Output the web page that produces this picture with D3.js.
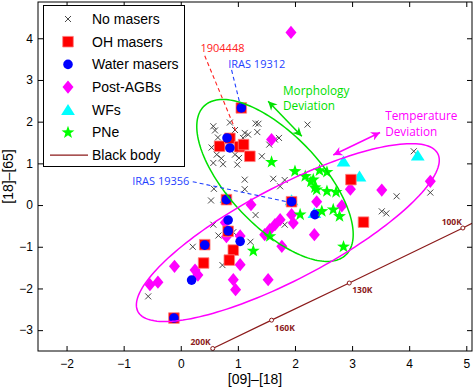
<!DOCTYPE html>
<html>
<head>
<meta charset="utf-8">
<script src="https://cdn.jsdelivr.net/npm/d3@7"></script>
<style>
  body { margin: 0; background: #fff; }
  svg { display: block; font-family: 'Liberation Sans', Arial, sans-serif; }
</style>
</head>
<body>
<div class="container"></div>
<script>
// [09]-[18] vs [18]-[65] colours, one list per class
const noMasers = [
  [0.57, 1.89], [0.60, 1.79], [0.86, 1.98], [0.95, 1.80], [1.12, 1.73], [1.18, 1.69],
  [1.31, 1.96], [1.36, 1.95], [1.34, 1.75], [1.09, 1.61], [1.55, 1.45], [1.72, 1.61],
  [1.65, 1.57], [2.22, 1.93], [0.65, 1.62], [0.54, 1.38], [0.63, 1.21], [0.57, 1.01],
  [0.74, 0.98], [0.99, 0.97], [0.95, 1.21], [1.02, 1.13], [1.42, 1.17], [0.71, 1.12],
  [1.12, 0.61], [1.62, 0.63], [1.82, 0.60], [1.74, 0.45], [0.58, 0.39], [1.12, 0.38],
  [0.53, 0.11], [1.31, -0.24], [0.57, -0.47], [0.66, -0.73], [0.92, -0.65], [1.22, -0.88],
  [0.21, -1.00], [0.73, -1.44], [1.82, -0.47], [-0.57, -2.19], [3.78, 0.21], [4.37, 0.30],
  [4.08, 1.29], [3.52, -0.15], [3.60, -0.20]
];
const wfs = [[2.85, 1.05], [3.13, 0.69], [4.15, 1.19], [0.80, 0.17], [1.94, 0.12], [2.34, -0.19]];
const postAGBs = [
  [1.93, 4.14], [1.59, 1.57], [2.97, 0.38], [3.52, 0.36], [4.37, 0.57], [1.23, 0.01],
  [2.38, 0.08], [2.82, -0.02], [1.94, -0.23], [1.97, -0.43], [1.74, -0.35], [1.65, -0.47],
  [1.56, -0.59], [1.47, -0.71], [2.34, -0.71], [1.77, -0.99], [1.53, -1.79], [1.04, -0.74],
  [1.04, -1.43], [0.92, -1.79], [0.96, -2.03], [-0.11, -1.47], [0.25, -1.56], [0.30, -1.68],
  [-0.54, -1.91], [-0.40, -1.85], [0.80, -0.76], [0.78, -0.42]
];
const ohMasers = [
  [1.06, 2.33], [0.68, 1.41], [0.86, 1.60], [1.03, 1.40], [1.10, 1.45], [1.21, 1.17],
  [2.98, 0.61], [3.20, -0.41], [0.80, 0.13], [1.94, 0.08], [0.83, -0.63], [0.42, -0.95],
  [0.40, -1.39], [0.92, -1.08], [0.85, -1.32], [-0.12, -2.71]
];
const waterMasers = [
  [1.06, 2.33], [0.81, 1.61], [0.86, 1.37], [0.80, 0.13], [1.94, 0.08], [2.35, -0.23],
  [0.83, -0.36], [0.83, -0.62], [1.04, -0.87], [0.42, -0.96], [0.19, -1.80], [-0.12, -2.71]
];
const pne = [
  [1.59, 1.03], [2.00, 0.81], [2.18, 0.69], [2.28, 0.56], [2.32, 0.61], [2.43, 0.83],
  [2.56, 0.79], [2.35, 0.42], [2.38, 0.37], [2.56, 0.33], [2.72, 0.31], [2.09, -0.23],
  [2.47, -0.15], [2.67, -0.11], [2.78, -0.27], [1.56, -0.75], [2.85, -1.00], [1.27, -1.10]
];

// black body curve and its temperature marks
const bbCurve = [[0.53, -3.47], [0.56, -3.44], [1.59, -2.76], [2.95, -1.87], [4.94, -0.55], [5.1, -0.44]];
const bbTemps = ['200K', '160K', '130K', '100K'];
const bbX = [0.56, 1.59, 2.95, 4.94];
const bbY = [-3.44, -2.76, -1.87, -0.55];

// ellipses: centre and two half-axis vectors, data units
const morphEllipse = { c: [1.65, 0.59], u: [1.238, -1.789], v: [-0.586, -0.755] };
const tempEllipse = { c: [1.875, -0.66], u: [2.625, 1.895], v: [0.379, -0.98] };

const xTicks = [-2, -1, 0, 1, 2, 3, 4, 5];
const yTicks = [-3, -2, -1, 0, 1, 2, 3, 4];

const width = 473;
const height = 388;
const box = { left: 38, right: 472, top: 2, bottom: 351 };

const x = d3.scaleLinear().domain([-2.5, 5.1]).range([box.left, box.right]);
const y = d3.scaleLinear().domain([-3.5, 4.87]).range([box.bottom, box.top]);

const svg = d3
  .select('.container')
  .append('svg')
  .attr('width', width)
  .attr('height', height);

const defs = svg.append('defs');
defs
  .append('clipPath')
  .attr('id', 'clip')
  .append('rect')
  .attr('x', box.left)
  .attr('y', box.top)
  .attr('width', box.right - box.left)
  .attr('height', box.bottom - box.top);

const arrowHead = (id, color) => {
  defs
    .append('marker')
    .attr('id', id)
    .attr('viewBox', '0 0 10 10')
    .attr('refX', 10)
    .attr('refY', 5)
    .attr('markerUnits', 'userSpaceOnUse')
    .attr('markerWidth', 10)
    .attr('markerHeight', 9)
    .attr('orient', 'auto-start-reverse')
    .append('path')
    .attr('d', 'M0,0 L10,5 L0,10 L3,5 Z')
    .attr('fill', color);
};
arrowHead('head-green', '#00e000');
arrowHead('head-mag', '#ff00ff');

// marker shapes
const shapes = {
  cross: s => `M${-s},${-s}L${s},${s}M${-s},${s}L${s},${-s}`,
  square: s => `M${-s},${-s}H${s}V${s}H${-s}Z`,
  diamond: s => `M0,${-s * 1.2}L${s},0L0,${s * 1.2}L${-s},0Z`,
  triangle: s => `M0,${-s * 0.95}L${s * 1.15},${s * 0.85}L${-s * 1.15},${s * 0.85}Z`,
  star: s => {
    let p = '';
    for (let i = 0; i < 10; i++) {
      const r = i % 2 ? s * 0.4 : s;
      const a = -Math.PI / 2 + (i * Math.PI) / 5;
      p += (i ? 'L' : 'M') + (r * Math.cos(a)).toFixed(2) + ',' + (r * Math.sin(a)).toFixed(2);
    }
    return p + 'Z';
  }
};

const series = [
  { name: 'No masers', data: noMasers, shape: 'cross', size: 3, fill: 'none', stroke: '#333' },
  { name: 'WFs', data: wfs, shape: 'triangle', size: 6, fill: '#00ffff' },
  { name: 'Post-AGBs', data: postAGBs, shape: 'diamond', size: 5.5, fill: '#ff00ff' },
  { name: 'OH masers', data: ohMasers, shape: 'square', size: 5.3, fill: '#ff0000', stroke: '#ff8080' },
  { name: 'Water masers', data: waterMasers, shape: 'circle', size: 4.8, fill: '#0000ff' },
  { name: 'PNe', data: pne, shape: 'star', size: 6.8, fill: '#00ff00' }
];

const legendOrder = ['No masers', 'OH masers', 'Water masers', 'Post-AGBs', 'WFs', 'PNe'];

const drawMarker = (sel, s) => {
  if (s.shape === 'circle') {
    sel.append('circle').attr('r', s.size).attr('fill', s.fill);
  } else {
    sel
      .append('path')
      .attr('d', shapes[s.shape](s.size))
      .attr('fill', s.fill)
      .attr('stroke', s.stroke || 'none')
      .attr('stroke-width', s.shape === 'cross' ? 0.9 : 0.8);
  }
};

const graph = svg.append('g').attr('clip-path', 'url(#clip)');

// black body line
graph
  .append('path')
  .datum(bbCurve)
  .attr('d', d3.line().x(d => x(d[0])).y(d => y(d[1])))
  .attr('fill', 'none')
  .attr('stroke', '#8b1a1a')
  .attr('stroke-width', 1.2);

graph
  .selectAll('.bb-mark')
  .data(bbX)
  .enter()
  .append('circle')
  .attr('class', 'bb-mark')
  .attr('cx', d => x(d))
  .attr('cy', (d, i) => y(bbY[i]))
  .attr('r', 2)
  .attr('fill', '#fff')
  .attr('stroke', '#8b1a1a')
  .attr('stroke-width', 1);

const bbOffsets = [[-2, -3, 'end'], [3, 11, 'start'], [3, 10, 'start'], [-1, -3, 'end']];
graph
  .selectAll('.bb-label')
  .data(bbTemps)
  .enter()
  .append('text')
  .attr('class', 'bb-label')
  .attr('x', (d, i) => x(bbX[i]) + bbOffsets[i][0])
  .attr('y', (d, i) => y(bbY[i]) + bbOffsets[i][1])
  .attr('text-anchor', (d, i) => bbOffsets[i][2])
  .attr('font-family', "'Open Sans', sans-serif")
  .attr('font-size', 8.5)
  .attr('font-weight', 'bold')
  .attr('fill', '#8b1a1a')
  .text(d => d);

// data points
series.forEach(s => {
  graph
    .selectAll(null)
    .data(s.data)
    .enter()
    .append('g')
    .attr('transform', d => `translate(${x(d[0])},${y(d[1])})`)
    .each(function() {
      drawMarker(d3.select(this), s);
    });
});

// ellipses
const ellipsePath = e => {
  const pts = d3.range(0, 2 * Math.PI + 0.01, Math.PI / 90).map(t => [
    e.c[0] + e.u[0] * Math.cos(t) + e.v[0] * Math.sin(t),
    e.c[1] + e.u[1] * Math.cos(t) + e.v[1] * Math.sin(t)
  ]);
  return d3.line().x(d => x(d[0])).y(d => y(d[1]))(pts);
};

graph
  .append('path')
  .attr('d', ellipsePath(morphEllipse))
  .attr('fill', 'none')
  .attr('stroke', '#00e000')
  .attr('stroke-width', 1.5);

graph
  .append('path')
  .attr('d', ellipsePath(tempEllipse))
  .attr('fill', 'none')
  .attr('stroke', '#ff00ff')
  .attr('stroke-width', 1.5);

// annotations
const dashed = [
  { from: [0.42, 3.58], to: [0.98, 1.73], color: '#ff2020' },
  { from: [0.89, 3.24], to: [1.04, 2.41], color: '#1f3fff' },
  { from: [0.21, 0.56], to: [1.86, 0.08], color: '#1f3fff' }
];
graph
  .selectAll('.leader')
  .data(dashed)
  .enter()
  .append('line')
  .attr('x1', d => x(d.from[0]))
  .attr('y1', d => y(d.from[1]))
  .attr('x2', d => x(d.to[0]))
  .attr('y2', d => y(d.to[1]))
  .attr('stroke', d => d.color)
  .attr('stroke-width', 1.1)
  .attr('stroke-dasharray', '4,3');

const notes = [
  { text: '1904448', at: [0.345, 3.67], color: '#ff2020', size: 11 },
  { text: 'IRAS 19312', at: [0.83, 3.29], color: '#1f3fff', size: 11 },
  { text: 'IRAS 19356', at: [-0.85, 0.48], color: '#1f3fff', size: 11 },
  { text: 'Morphology', at: [1.79, 2.63], color: '#00e000', size: 11.8 },
  { text: 'Deviation', at: [1.79, 2.28], color: '#00e000', size: 11.8 },
  { text: 'Temperature', at: [3.58, 2.03], color: '#ff00ff', size: 11.8 },
  { text: 'Deviation', at: [3.58, 1.66], color: '#ff00ff', size: 11.8 }
];
graph
  .selectAll('.note')
  .data(notes)
  .enter()
  .append('text')
  .attr('x', d => x(d.at[0]))
  .attr('y', d => y(d.at[1]))
  .attr('font-family', "'Open Sans', sans-serif")
  .attr('font-size', d => d.size)
  .attr('fill', d => d.color)
  .text(d => d.text);

const arrows = [
  { from: [1.53, 2.49], to: [2.12, 1.65], head: 'head-green', color: '#00e000' },
  { from: [3.49, 1.74], to: [2.67, 1.2], head: 'head-mag', color: '#ff00ff' }
];
graph
  .selectAll('.arrow')
  .data(arrows)
  .enter()
  .append('line')
  .attr('x1', d => x(d.from[0]))
  .attr('y1', d => y(d.from[1]))
  .attr('x2', d => x(d.to[0]))
  .attr('y2', d => y(d.to[1]))
  .attr('stroke', d => d.color)
  .attr('stroke-width', 1.5)
  .attr('marker-start', d => `url(#${d.head})`)
  .attr('marker-end', d => `url(#${d.head})`);

// axes, ticks inside on all four sides
const tickStyle = g => {
  g.select('.domain').remove();
  g.selectAll('.tick line').attr('stroke', '#000');
  g.selectAll('.tick text').attr('font-size', 12).attr('fill', '#000');
};

svg
  .append('g')
  .attr('transform', `translate(0,${box.bottom})`)
  .call(d3.axisBottom(x).tickValues(xTicks).tickSizeInner(-5).tickSizeOuter(0).tickPadding(8))
  .call(tickStyle);
svg
  .append('g')
  .attr('transform', `translate(0,${box.top})`)
  .call(d3.axisTop(x).tickValues(xTicks).tickSizeInner(-5).tickSizeOuter(0).tickFormat(''))
  .call(tickStyle);
svg
  .append('g')
  .attr('transform', `translate(${box.left},0)`)
  .call(d3.axisLeft(y).tickValues(yTicks).tickSizeInner(-5).tickSizeOuter(0).tickPadding(5))
  .call(tickStyle);
svg
  .append('g')
  .attr('transform', `translate(${box.right},0)`)
  .call(d3.axisRight(y).tickValues(yTicks).tickSizeInner(-5).tickSizeOuter(0).tickFormat(''))
  .call(tickStyle);

svg
  .append('rect')
  .attr('x', box.left)
  .attr('y', box.top)
  .attr('width', box.right - box.left)
  .attr('height', box.bottom - box.top)
  .attr('fill', 'none')
  .attr('stroke', '#000')
  .attr('stroke-width', 1);

svg
  .append('text')
  .attr('x', (box.left + box.right) / 2)
  .attr('y', 384)
  .attr('text-anchor', 'middle')
  .attr('font-size', 14)
  .text('[09]–[18]');

svg
  .append('text')
  .attr('transform', `translate(13,${(box.top + box.bottom) / 2}) rotate(-90)`)
  .attr('text-anchor', 'middle')
  .attr('font-size', 14)
  .text('[18]–[65]');

// legend
const legend = svg.append('g').attr('class', 'legend');
legend
  .append('rect')
  .attr('x', 43.5)
  .attr('y', 5.5)
  .attr('width', 141)
  .attr('height', 161)
  .attr('fill', '#fff')
  .attr('stroke', '#000')
  .attr('stroke-width', 1);

const rowY = i => 19 + i * 22.7;
legendOrder.forEach((name, i) => {
  const s = series.find(d => d.name === name);
  const row = legend.append('g').attr('transform', `translate(68,${rowY(i)})`);
  drawMarker(row, s);
  legend
    .append('text')
    .attr('x', 92)
    .attr('y', rowY(i))
    .attr('dy', '0.35em')
    .attr('font-size', 14)
    .text(name);
});

legend
  .append('line')
  .attr('x1', 50)
  .attr('x2', 88)
  .attr('y1', rowY(6))
  .attr('y2', rowY(6))
  .attr('stroke', '#8b1a1a')
  .attr('stroke-width', 1.2);
legend
  .append('text')
  .attr('x', 92)
  .attr('y', rowY(6))
  .attr('dy', '0.35em')
  .attr('font-size', 14)
  .text('Black body');
</script>
</body>
</html>
